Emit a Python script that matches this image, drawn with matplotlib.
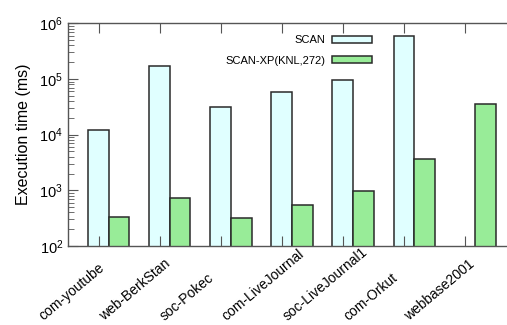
import numpy as np
import matplotlib
matplotlib.use("Agg")
import matplotlib.pyplot as plt

plt.rcParams['font.family'] = ['Liberation Sans', 'DejaVu Sans']

graphs = ["com-youtube", "web-BerkStan", "soc-Pokec", "com-LiveJournal",
          "soc-LiveJournal1", "com-Orkut", "webbase2001"]
scan = [12100, 172600, 31700, 57400, 94400, 589000, np.nan]
scan_xp = [336, 728, 314, 552, 959, 3600, 35900]

fig = plt.figure(figsize=(5.07, 3.25), dpi=100)
ax = fig.add_axes([68 / 507, 79 / 325, 1 - 68 / 507, 222.7 / 325])

x = np.arange(len(graphs))
w = 0.337
edge = '#2a2a2a'
ax.bar(x, scan, w, color='#e0ffff', edgecolor=edge, linewidth=1.1, label='SCAN')
ax.bar(x + w, scan_xp, w, color='#98ec98', edgecolor=edge, linewidth=1.1,
       label='SCAN-XP(KNL,272)')

ax.set_yscale('log')
ax.set_ylim(1e2, 1e6)
ax.set_xlim(-0.5, 6.69)
ax.set_ylabel('Execution time (ms)', fontsize=11.5, labelpad=6)

# category names start below-left of each tick and run up to the right
ax.set_xticks(x)
ax.set_xticklabels([])
for xi, name in zip(x, graphs):
    ax.annotate(name, xy=(xi, 0), xycoords=('data', 'axes fraction'),
                xytext=(-40, -54), textcoords='offset points',
                rotation=40, rotation_mode='anchor', ha='left', va='baseline',
                fontsize=10, annotation_clip=False)

ax.tick_params(axis='x', direction='in', length=7, top=True, bottom=True,
               color='#555555')
ax.tick_params(axis='y', which='major', direction='in', length=7,
               color='#555555', labelsize=10.5)
ax.tick_params(axis='y', which='minor', direction='in', length=4,
               color='#555555')

for side in ['left', 'bottom', 'top']:
    ax.spines[side].set_color('#555555')
    ax.spines[side].set_linewidth(1.0)
ax.spines['right'].set_visible(False)

ax.legend(loc='upper right', bbox_to_anchor=(0.692, 0.947), frameon=False,
          fontsize=8, markerfirst=False, handlelength=3.6, handleheight=0.6,
          labelspacing=0.95, handletextpad=0.6, borderpad=0, borderaxespad=0)

fig.savefig('out.png', dpi=100)
